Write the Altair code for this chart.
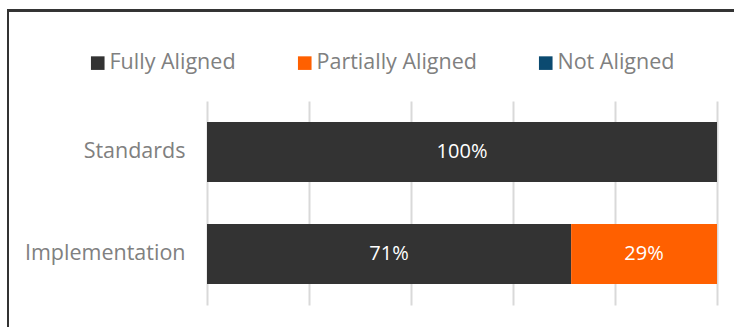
import altair as alt
import pandas as pd

categories = ["Standards", "Implementation"]
series = ["Fully Aligned", "Partially Aligned", "Not Aligned"]
fully = [100, 71.4]
partially = [0, 28.6]
not_aligned = [0, 0]
colors = ["#333333", "#FF6000", "#0B4A70"]

rows = []
for i, c in enumerate(categories):
    for j, (s, v) in enumerate(zip(series, [fully[i], partially[i], not_aligned[i]])):
        rows.append({"cat": c, "series": s, "value": v, "ord": j,
                     "label": f"{round(v)}%" if v > 0 else ""})
df = pd.DataFrame(rows)

FONT = "Open Sans"

base = alt.Chart(df).encode(
    y=alt.Y("cat:N", sort=categories, title=None,
            scale=alt.Scale(paddingInner=0.41, paddingOuter=0.205),
            axis=alt.Axis(domain=False, ticks=False, labelPadding=22,
                          labelFontSize=21.5, labelColor="#808080", labelFont=FONT)),
    x=alt.X("value:Q", stack="zero", title=None,
            scale=alt.Scale(domain=[0, 100]),
            axis=alt.Axis(values=[0, 20, 40, 60, 80, 100], labels=False, ticks=False,
                          domain=False, grid=True, gridColor="#D9D9D9", gridWidth=2)),
    order=alt.Order("ord:Q"),
)

bars = base.mark_bar().encode(
    color=alt.Color("series:N", sort=series,
                    scale=alt.Scale(domain=series, range=colors),
                    legend=alt.Legend(title=None, orient="none", direction="horizontal",
                                      legendX=-120, legendY=-49, columns=3,
                                      columnPadding=58, symbolType="square",
                                      symbolSize=185, symbolStrokeWidth=0,
                                      symbolOpacity=1, labelFontSize=21.5,
                                      labelColor="#808080", labelFont=FONT,
                                      labelOffset=1, labelLimit=0)),
)

text = alt.Chart(df[df["value"] > 0]).mark_text(
    color="white", fontSize=20, font=FONT
).encode(
    y=alt.Y("cat:N", sort=categories),
    x=alt.X("mid:Q"),
    text=alt.Text("label:N"),
).transform_window(
    cum="sum(value)", groupby=["cat"], sort=[alt.SortField("ord")]
).transform_calculate(mid="datum.cum - datum.value / 2")

border_left = alt.Chart(df).mark_rule(color="#333333", strokeWidth=2).encode(
    x=alt.value(-199), y=alt.value(-91), y2=alt.value(230))
border_top = alt.Chart(df).mark_rule(color="#333333", strokeWidth=2).encode(
    x=alt.value(-200), x2=alt.value(530), y=alt.value(-90.5))

chart = alt.layer(bars, text, border_left, border_top).properties(
    width=510, height=204,
    autosize=alt.AutoSizeParams(type="none"),
    padding={"left": 207, "top": 101, "right": 17, "bottom": 22},
    background="white",
).configure_view(stroke=None)

chart.save("out.html", embed_options={"renderer": "svg", "actions": False})
